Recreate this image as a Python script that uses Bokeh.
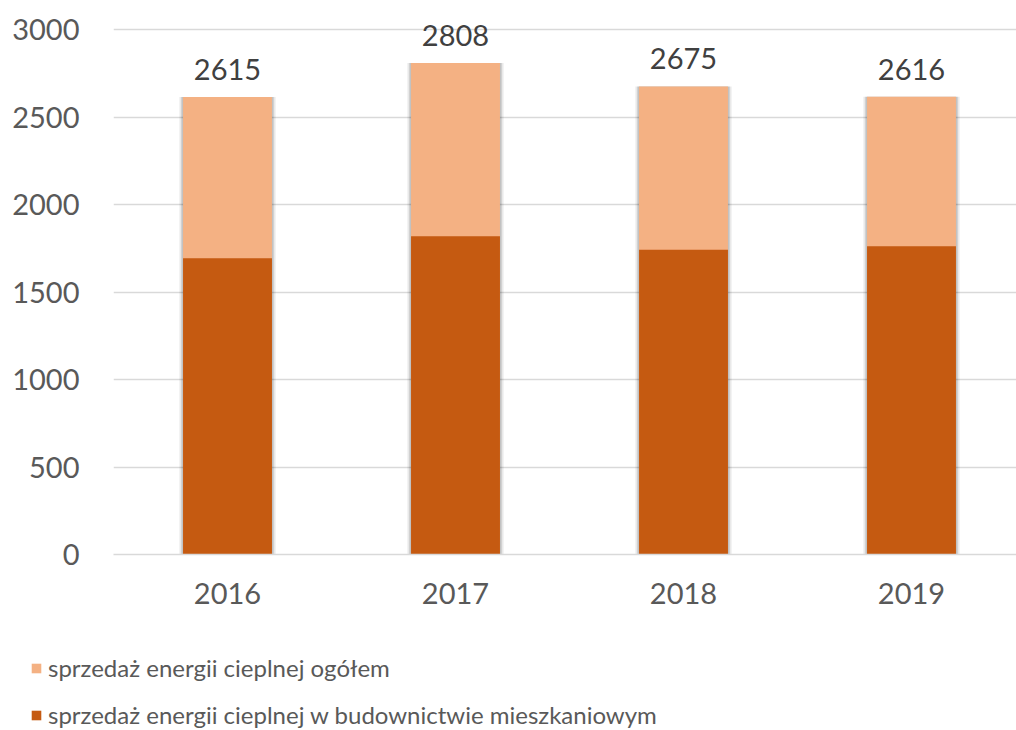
from bokeh.plotting import figure
from bokeh.layouts import column, row
from bokeh.models import Range1d, FixedTicker, Legend, LegendItem, ColumnDataSource
from bokeh.core.properties import value
from bokeh.embed import file_html
from bokeh.resources import INLINE

years = [2016, 2017, 2018, 2019]
total = [2615, 2808, 2675, 2616]
residential = [1693, 1819, 1741, 1762]
labels = [str(v) for v in total]
series_names = ["sprzedaż energii cieplnej ogółem",
                "sprzedaż energii cieplnej w budownictwie mieszkaniowym"]
y_ticks = [0, 500, 1000, 1500, 2000, 2500, 3000]

LIGHT = "#F4B183"
DARK = "#C55A11"
TEXT = "#595959"
FONT = "Lato"

src = ColumnDataSource(dict(x=years, total=total, res=residential, lab=labels))

p = figure(width=1016, height=632, output_backend="svg", toolbar_location=None,
           x_range=Range1d(2015.5, 2015.5 + (1016 - 113) / 228.0),
           y_range=Range1d(0, 3000 + 29 / 0.175),
           min_border_left=113, min_border_right=0, min_border_top=0,
           min_border_bottom=78)
p.outline_line_color = None
p.background_fill_color = "white"
p.border_fill_color = "white"

bw = 0.39
px = 1 / 228.0
# soft shadow
for extra, alpha in [(8, 0.05), (5, 0.08), (3, 0.13)]:
    p.vbar(x="x", top="total", width=bw + extra * px, bottom=0, source=src,
           fill_color="#000000", fill_alpha=alpha, line_color=None)

r_total = p.vbar(x="x", top="total", width=bw, bottom=0, source=src,
                 fill_color=LIGHT, line_color=None)
r_res = p.vbar(x="x", top="res", width=bw, bottom=0, source=src,
               fill_color=DARK, line_color=None)

p.text(x="x", y="total", text="lab", source=src, text_align="center",
       text_baseline="bottom", y_offset=-17, text_font=value(FONT),
       text_font_size="29px", text_color="#404040")

p.xaxis.ticker = FixedTicker(ticks=years)
p.xaxis.major_tick_line_color = None
p.xaxis.minor_tick_line_color = None
p.xaxis.axis_line_color = "#D9D9D9"
p.xaxis.axis_line_width = 1.5
p.xaxis.major_label_text_font = FONT
p.xaxis.major_label_text_font_size = "29px"
p.xaxis.major_label_text_color = TEXT
p.xaxis.major_label_standoff = 22

p.yaxis.ticker = FixedTicker(ticks=y_ticks)
p.yaxis.axis_line_color = None
p.yaxis.major_tick_line_color = None
p.yaxis.minor_tick_line_color = None
p.yaxis.major_label_text_font = FONT
p.yaxis.major_label_text_font_size = "29px"
p.yaxis.major_label_text_color = TEXT
p.yaxis.major_label_standoff = 28

p.xgrid.grid_line_color = None
p.ygrid.ticker = FixedTicker(ticks=y_ticks)
p.ygrid.grid_line_color = "#D9D9D9"
p.ygrid.grid_line_width = 1.5

# legend panel below the chart
lg = figure(width=1016, height=98, output_backend="svg", toolbar_location=None,
            x_axis_type=None, y_axis_type=None,
            x_range=Range1d(0, 1), y_range=Range1d(0, 1),
            min_border_left=0, min_border_right=0, min_border_top=0,
            min_border_bottom=0)
lg.outline_line_color = None
lg.xgrid.visible = False
lg.ygrid.visible = False
# zero-size key glyphs (only used for the legend swatches)
k1 = lg.vbar(x=[0], top=[0], width=0, fill_color=LIGHT, line_color=None)
k2 = lg.vbar(x=[0], top=[0], width=0, fill_color=DARK, line_color=None)
legend = Legend(items=[LegendItem(label=series_names[0], renderers=[k1]),
                       LegendItem(label=series_names[1], renderers=[k2])],
                location=(30, 1), orientation="vertical",
                glyph_width=12, glyph_height=12, label_standoff=6,
                spacing=18, padding=0, margin=0,
                label_text_font=FONT, label_text_font_size="24px",
                label_text_color=TEXT, border_line_color=None,
                background_fill_alpha=0)
lg.add_layout(legend, "center")

layout = column(p, row(lg), spacing=0)
open("out.html", "w").write(file_html(layout, INLINE))
